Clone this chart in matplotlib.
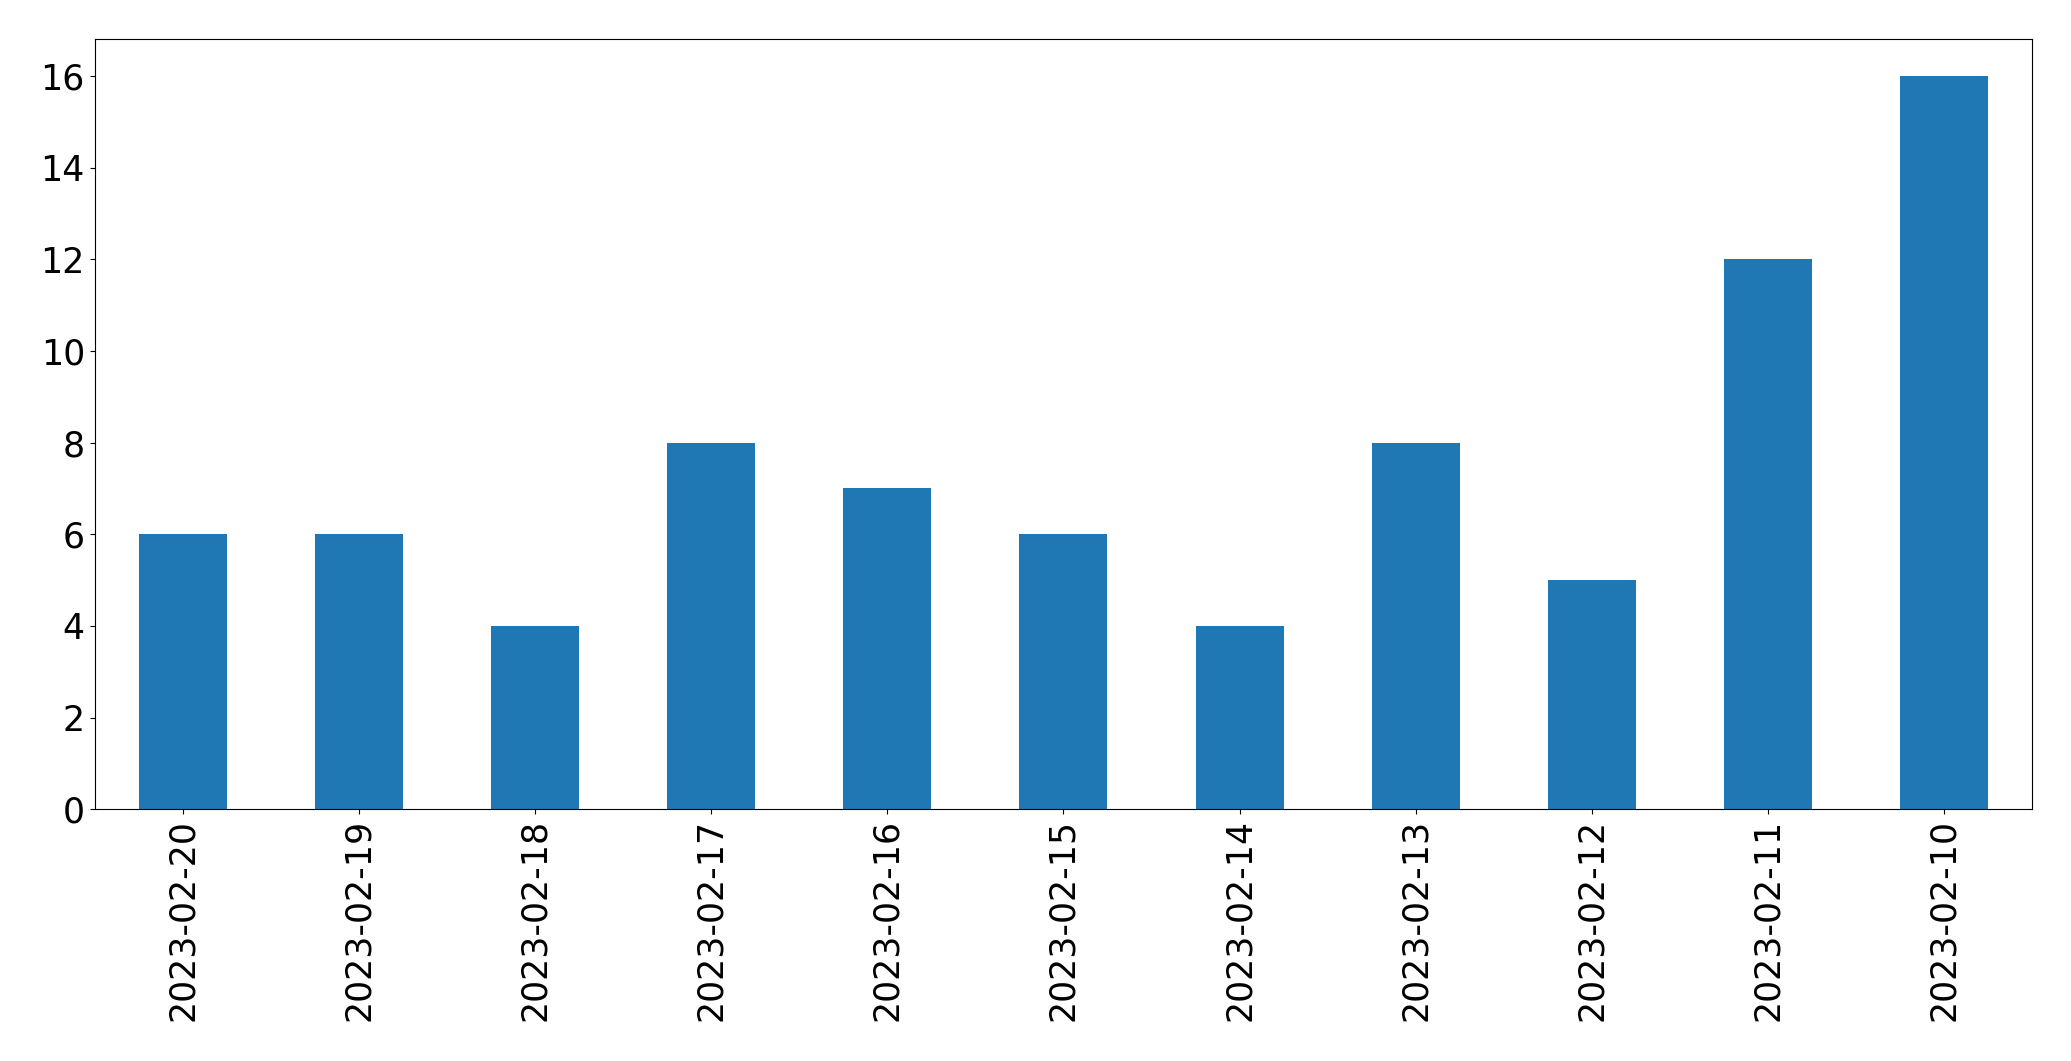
import matplotlib
matplotlib.use("Agg")
import matplotlib.pyplot as plt
import numpy as np

dates = ["2023-02-20", "2023-02-19", "2023-02-18", "2023-02-17", "2023-02-16",
         "2023-02-15", "2023-02-14", "2023-02-13", "2023-02-12", "2023-02-11", "2023-02-10"]
counts = [6, 6, 4, 8, 7, 6, 4, 8, 5, 12, 16]

fig = plt.figure(figsize=(20.71, 10.61), dpi=100)
ax = fig.add_axes([0.0457, 0.2372, 0.9356, 0.7258])
x = np.arange(len(dates))
ax.bar(x, counts, width=0.5, color="#1f77b4")
ax.set_xlim(-0.5, len(dates) - 0.5)
ax.set_ylim(0, 16.8)
ax.set_xticks(x)
ax.set_xticklabels(dates, rotation=90, fontsize=25)
ax.tick_params(axis="y", labelsize=25)
fig.savefig("out.png", dpi=100)
